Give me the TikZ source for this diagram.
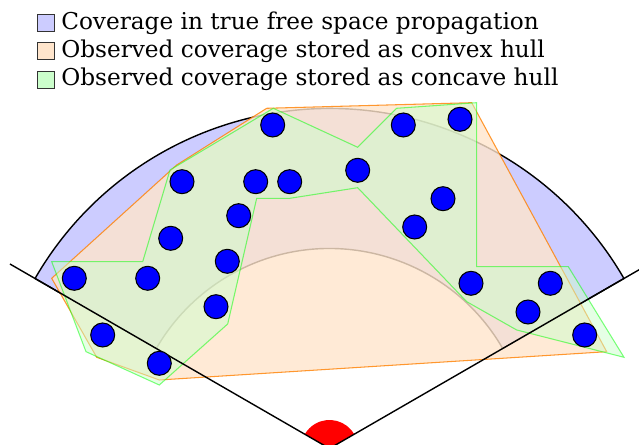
\documentclass[tikz,border=0pt]{standalone}
\usepackage{fontspec}
\setmainfont{DejaVu Serif}
\usetikzlibrary{positioning}

\tikzset{
  sensor/.style={circle, draw=black, fill=blue, line width=0.6pt, minimum size=0.48cm, inner sep=0pt},
  legbox/.style={draw=black!80, line width=0.5pt, minimum size=0.34cm, inner sep=0pt},
  legtext/.style={inner sep=0pt, font=\fontsize{13.2}{15}\selectfont},
  convex/.style={draw=orange, fill=orange!20, opacity=0.8, line width=0.6pt},
  concave/.style={draw=green, fill=green!20, opacity=0.5, line width=0.6pt},
}

\begin{document}
\begin{tikzpicture}[x=0.02cm, y=0.02cm]
\useasboundingbox (-329.5,3.5) rectangle (309.5,448.5);

% radii
\def\Rout{340}
\def\Rin{200}
\def\Rray{369}
\def\Rsrc{28.5}

% antenna at the origin
\coordinate (S) at (0,0);
\coordinate (rayL) at (150:\Rray);
\coordinate (rayR) at (30:\Rray);

% true free space coverage
\filldraw[fill=blue!20, draw=black, line width=0.8pt] (30:\Rin) arc (30:150:\Rin)
  -- (150:\Rout) arc (150:30:\Rout) -- cycle;

% everything else in picture pixels, y pointing down
\begin{scope}[shift={(-329.5,448.5)}, yscale=-1]

% convex hull
\draw[convex] (51.7,278.3) -- (96.7,357.3) -- (159.3,380) -- (606.7,351.7)
  -- (471.7,102.7) -- (266.7,108.3) -- (176.7,165) -- cycle;

% concave hull
\draw[concave] (51.7,261.7) -- (142.7,261.7) -- (170,170) -- (273.3,108.3)
  -- (357.7,147.3) -- (396.7,108.3) -- (476.7,102.7) -- (476.7,266.7)
  -- (568.3,266.7) -- (624,357.3) -- (516.7,330) -- (466.7,301.7)
  -- (357.7,187.7) -- (290,198.3) -- (256.7,198.3) -- (227.7,324)
  -- (159.3,385) -- (86,351.7) -- cycle;

\end{scope}

% antenna and field of view
\fill[red] (S) -- (30:\Rsrc) arc (30:150:\Rsrc) -- cycle;
\draw[line width=0.8pt] (rayL) -- (S) -- (rayR);

\begin{scope}[shift={(-329.5,448.5)}, yscale=-1]

% measurement positions
\foreach \px/\py [count=\i] in {272.7/125, 403.3/125, 460/119.3, 182/181.7,
    255.7/181.7, 289.7/181.7, 357.7/170.3, 443/198.7, 238.7/215.7, 414.7/227,
    170.7/238.3, 227.3/261.3, 74.3/278.3, 147.7/278.3, 471/283.3, 550.3/283.3,
    216/306.7, 528/312, 102.7/335, 584.7/335, 159.3/363.3}
  \node[sensor] (m\i) at (\px,\py) {};

% legend
\node[legbox, fill=blue!20] (box1) at (45.5,22.8) {};
\node[legbox, fill=orange!20, below=0.21cm of box1] (box2) {};
\node[legbox, fill=green!20, below=0.21cm of box2] (box3) {};
\node[legtext, right=0.13cm of box1] (txt1) {Coverage in true free space propagation};
\node[legtext, right=0.13cm of box2] (txt2) {Observed coverage stored as convex hull};
\node[legtext, right=0.13cm of box3] (txt3) {Observed coverage stored as concave hull};

\end{scope}

\end{tikzpicture}
\end{document}
